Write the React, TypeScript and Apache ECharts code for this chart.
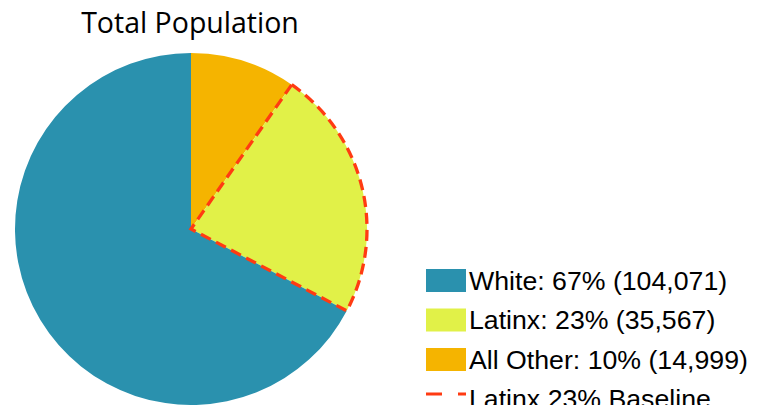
import React, { useEffect, useRef } from "react";
import * as echarts from "echarts";

const title = "Total Population";
const categories = ["White", "Latinx", "All Other"];
const percents = [67, 23, 10];
const counts = [104071, 35567, 14999];
const colors = ["#2a91ae", "#e1f148", "#f5b400"];
const baselineName = "Latinx 23% Baseline";
const baselineIndex = 1;
const baselineColor = "#ff3b12";

const fmt = (n: number) => n.toLocaleString("en-US");
const labels = categories.map((c, i) => `${c}: ${percents[i]}% (${fmt(counts[i])})`);

export default function App() {
  const ref = useRef<HTMLDivElement>(null);
  useEffect(() => {
    if (!ref.current) return;
    const chart = echarts.init(ref.current, undefined, { renderer: "svg" });
    // clockwise from 12 o'clock: All Other, Latinx, White
    const order = [2, 1, 0];
    const mainData = order.map((i) => ({
      name: labels[i],
      value: counts[i],
      itemStyle: { color: colors[i] },
    }));
    const baseData = order.map((i) =>
      i === baselineIndex
        ? {
            name: baselineName,
            value: counts[i],
            itemStyle: {
              color: "rgba(0,0,0,0)",
              borderColor: baselineColor,
              borderWidth: 3.3,
              borderType: [11, 6],
              borderJoin: "miter",
            },
          }
        : {
            name: "_bl_" + i,
            value: counts[i],
            itemStyle: { color: "rgba(0,0,0,0)", borderWidth: 0 },
          }
    );
    chart.setOption({
      animation: false,
      title: {
        text: title,
        left: 185,
        textAlign: "center",
        top: 2,
        textStyle: {
          fontFamily: "Open Sans",
          fontSize: 28.5,
          fontWeight: "normal",
          color: "#000",
        },
      },
      legend: {
        orient: "vertical",
        left: 421,
        top: 262,
        height: 300,
        itemWidth: 40,
        itemHeight: 23,
        itemGap: 12.5,
        selectedMode: false,
        textStyle: { fontFamily: "Liberation Sans, Arial", fontSize: 26.7, color: "#000", padding: [0, 0, 0, -2] },
        data: [
          ...labels.map((l) => ({ name: l, icon: "rect" })),
          {
            name: baselineName,
            icon: "path://M0,0 M40,23 M0,5 L16,5 L16,8 L0,8 Z M32,5 L40,5 L40,8 L32,8 Z",
            itemStyle: { color: baselineColor, borderWidth: 0, opacity: 1 },
          },
        ],
      },
      series: [
        {
          type: "pie",
          center: [191, 229],
          radius: 176,
          startAngle: 90,
          clockwise: true,
          label: { show: false },
          labelLine: { show: false },
          emphasis: { disabled: true },
          silent: true,
          itemStyle: { borderWidth: 0 },
          data: mainData,
        },
        {
          type: "pie",
          center: [191, 229],
          radius: 176,
          startAngle: 90,
          clockwise: true,
          label: { show: false },
          labelLine: { show: false },
          emphasis: { disabled: true },
          silent: true,
          data: baseData,
        },
      ],
    });
    return () => chart.dispose();
  }, []);
  return (
    <div
      ref={ref}
      style={{ position: "absolute", left: 0, top: 0, width: 764, height: 405, overflow: "hidden" }}
    />
  );
}
